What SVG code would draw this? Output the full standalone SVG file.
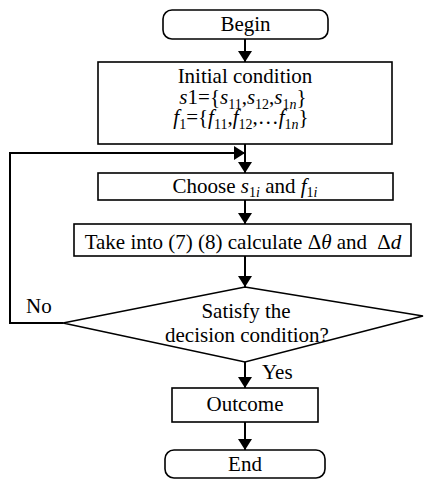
<svg xmlns="http://www.w3.org/2000/svg" width="424" height="479" viewBox="0 0 424 479" font-family="'Liberation Serif', 'DejaVu Serif', serif">
<defs>
<style>
text{font-family:'Liberation Serif','DejaVu Serif',serif;font-size:21px;fill:#000}
.it{font-style:italic}
.sb{font-size:14px}
.box{fill:#fff;stroke:#000;stroke-width:1.6}
.ln{fill:none;stroke:#000;stroke-width:2}
</style>
<marker id="ah" markerUnits="userSpaceOnUse" markerWidth="12" markerHeight="14" refX="11" refY="7" orient="auto">
<path d="M0,0 L11,7 L0,14 z" fill="#000"/>
</marker>
</defs>
<rect width="424" height="479" fill="#fff"/>
<g id="connectors">
<path class="ln" d="M245,39 V62" marker-end="url(#ah)"/>
<path class="ln" d="M245,144 V173" marker-end="url(#ah)"/>
<path class="ln" d="M63,323 H10 V153 H245" marker-end="url(#ah)"/>
<path class="ln" d="M245,200 V224" marker-end="url(#ah)"/>
<path class="ln" d="M245,256 V287" marker-end="url(#ah)"/>
<path class="ln" d="M245,362 V388" marker-end="url(#ah)"/>
<path class="ln" d="M245,422 V450" marker-end="url(#ah)"/>
<text x="26" y="313">No</text>
<text x="262" y="379">Yes</text>
</g>
<g id="begin">
<rect class="box" x="163" y="10" width="165" height="29" rx="9"/>
<text x="245.5" y="31" text-anchor="middle">Begin</text>
</g>
<g id="initial">
<rect class="box" x="98" y="62" width="294" height="82"/>
<text x="245" y="83" text-anchor="middle">Initial condition</text>
<text x="243" y="104" text-anchor="middle"><tspan class="it">s</tspan>1={<tspan class="it">s</tspan><tspan class="sb" dy="5">11</tspan><tspan dy="-5">,</tspan><tspan class="it">s</tspan><tspan class="sb" dy="5">12</tspan><tspan dy="-5">,</tspan><tspan class="it">s</tspan><tspan class="sb" dy="5">1<tspan class="it">n</tspan></tspan><tspan dy="-5">}</tspan></text>
<text x="241" y="124" text-anchor="middle"><tspan class="it">f</tspan><tspan class="sb" dy="5">1</tspan><tspan dy="-5">={</tspan><tspan class="it">f</tspan><tspan class="sb" dy="5">11</tspan><tspan dy="-5">,</tspan><tspan class="it">f</tspan><tspan class="sb" dy="5">12</tspan><tspan dy="-5">,…</tspan><tspan class="it">f</tspan><tspan class="sb" dy="5">1<tspan class="it">n</tspan></tspan><tspan dy="-5">}</tspan></text>
</g>
<g id="choose">
<rect class="box" x="98" y="173" width="295" height="27"/>
<text x="245" y="193" text-anchor="middle">Choose <tspan class="it">s</tspan><tspan class="sb" dy="4">1<tspan class="it">i</tspan></tspan><tspan dy="-4"> and </tspan><tspan class="it">f</tspan><tspan class="sb" dy="4">1<tspan class="it">i</tspan></tspan></text>
</g>
<g id="take">
<rect class="box" x="74" y="224" width="337" height="32"/>
<text x="243" y="249" text-anchor="middle">Take into (7) (8) calculate Δ<tspan class="it">θ</tspan> and <tspan dx="5">Δ</tspan><tspan class="it">d</tspan></text>
</g>
<g id="decision">
<polygon class="box" points="245,287 423,316 245,362 63,323"/>
<text x="246" y="318" text-anchor="middle">Satisfy the</text>
<text x="247" y="342" text-anchor="middle">decision condition?</text>
</g>
<g id="outcome">
<rect class="box" x="172" y="388" width="146" height="34"/>
<text x="245" y="411" text-anchor="middle">Outcome</text>
</g>
<g id="end">
<rect class="box" x="165" y="450" width="160" height="28" rx="9"/>
<text x="245" y="471" text-anchor="middle">End</text>
</g>
</svg>
